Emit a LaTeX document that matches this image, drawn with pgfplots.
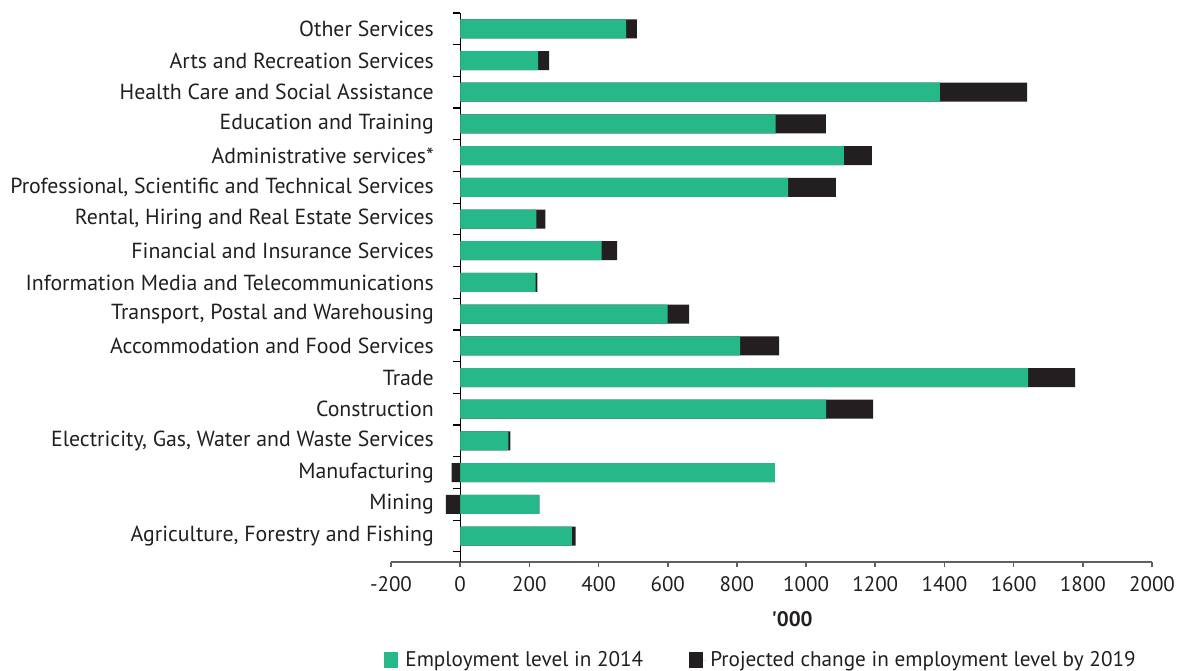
\documentclass[border=0pt]{standalone}
\usepackage{fontspec}
\setmainfont{PT Sans}
\usepackage{pgfplots}
\pgfplotsset{compat=1.18}
\usepackage{pgfplotstable}

\definecolor{empgreen}{RGB}{38,184,137}
\definecolor{chgblack}{RGB}{35,31,32}
\definecolor{axisgrey}{RGB}{95,95,95}
\definecolor{textdark}{RGB}{35,31,32}

% employment level in 2014 and projected change to 2019 ('000)
\pgfplotstableread{
idx level change
0   323   11
1   229  -41
2   910  -25
3   139    6
4  1058  136
5  1642  136
6   809  113
7   600   62
8   218    5
9   409   45
10  220   26
11  948  138
12 1109   81
13  912  145
14 1387  252
15  225   32
16  480   31
}\emptable

\begin{document}
\begin{tikzpicture}
\begin{axis}[
  name=ax,
  scale only axis,
  width=380.5pt, height=274.5pt,
  xmin=-200, xmax=2000,
  ymin=-0.82, ymax=16.5,
  axis x line=bottom,
  axis y line=middle,
  axis line style={-},
  x axis line style={draw=axisgrey, line width=0.8pt},
  y axis line style={draw=black, line width=0.6pt},
  xtick={-200,0,...,2000},
  xtick style={draw=axisgrey, line width=0.8pt},
  tick align=outside,
  major tick length=2.5pt,
  ytick={0,...,16},
  yticklabels={
    {Agriculture, Forestry and Fishing},
    {Mining},
    {Manufacturing},
    {Electricity, Gas, Water and Waste Services},
    {Construction},
    {Trade},
    {Accommodation and Food Services},
    {Transport, Postal and Warehousing},
    {Information Media and Telecommunications},
    {Financial and Insurance Services},
    {Rental, Hiring and Real Estate Services},
    {Professional, Scientific and Technical Services},
    {Administrative services*},
    {Education and Training},
    {Health Care and Social Assistance},
    {Arts and Recreation Services},
    {Other Services}},
  ytick style={draw=none},
  minor ytick={-0.82,-0.5,0.5,...,16.5},
  minor y tick style={draw=black, line width=0.6pt},
  minor tick length=3.5pt,
  yticklabel style={anchor=east, inner sep=0pt, xshift=-10.5pt, font=\fontsize{10.9}{12}\selectfont, text=textdark},
  xticklabel style={font=\fontsize{10.5}{12}\selectfont, text=textdark, yshift=-1pt},
  /pgf/number format/assume math mode=true,
  /pgf/number format/1000 sep={},
  xlabel={\textquotesingle000},
  xlabel style={at={(rel axis cs:0.527,0)}, anchor=center, yshift=-28.5pt, font=\bfseries\fontsize{10.5}{12}\selectfont, text=textdark},
  xbar, bar shift=0pt, bar width=9.5pt,
  legend columns=2,
  legend style={at={(rel axis cs:-0.0092,-0.1785)}, anchor=west, draw=none, fill=none,
    inner sep=0pt, font=\fontsize{10.6}{12}\selectfont, text=textdark,
    /tikz/every even column/.append style={column sep=21pt}},
  legend cell align=left,
  legend image code/.code={\fill[#1] (0pt,-4pt) rectangle (7pt,4pt);\path (0pt,0pt) -- (8.5pt,0pt);},
]
% total after projected change (drawn first, level overlays it)
\addplot[fill=chgblack, draw=none, forget plot]
  table[y=idx, x expr={\thisrow{level}+max(\thisrow{change},0)}] {\emptable};
% employment level in 2014
\addplot[fill=empgreen, draw=none, forget plot]
  table[y=idx, x=level] {\emptable};
% projected decline, drawn from zero
\addplot[fill=chgblack, draw=none, forget plot]
  table[y=idx, x expr={min(\thisrow{change},0)}] {\emptable};

\addlegendimage{fill=empgreen, draw=none}
\addlegendentry{Employment level in 2014}
\addlegendimage{fill=chgblack, draw=none}
\addlegendentry{Projected change in employment level by 2019}
\end{axis}
\pgfresetboundingbox
\path ([xshift=-195.5pt,yshift=6.5pt]ax.north west) rectangle ([xshift=14.5pt,yshift=-54pt]ax.south east);
\end{tikzpicture}
\end{document}
